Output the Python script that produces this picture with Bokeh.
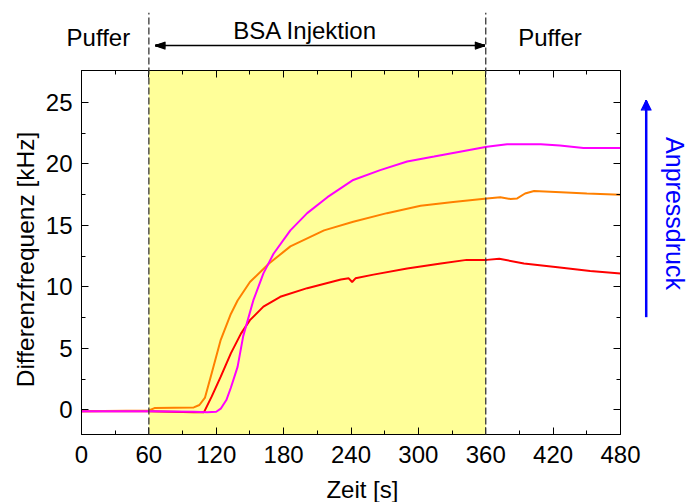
import math

from bokeh.plotting import figure
from bokeh.models import Range1d, LinearAxis, FixedTicker, BoxAnnotation, CustomJSTickFormatter
from bokeh.core.properties import value
from bokeh.embed import file_html
from bokeh.resources import INLINE

FONT = "Liberation Sans"
FS = "24px"

# --- measured frequency shift, three contact pressures ---------------------
t_red = [0, 30, 60, 80, 100, 109, 116, 124, 133, 142, 150, 162, 177, 201, 231,
         238, 241, 244, 260, 290, 320, 343, 361, 372, 394, 424, 453, 480]
f_red = [-0.1, -0.1, -0.1, -0.15, -0.2, -0.2, 1.1, 2.7, 4.6, 6.2, 7.3, 8.4, 9.2,
         9.9, 10.6, 10.7, 10.4, 10.7, 11.0, 11.5, 11.9, 12.2, 12.2, 12.3, 11.9,
         11.6, 11.3, 11.1]

t_orange = [0, 60, 65, 100, 105, 110, 116, 124, 133, 139, 150, 167, 186, 216,
            242, 272, 302, 331, 361, 373, 382, 388, 395, 403, 427, 450, 480]
f_orange = [-0.1, -0.05, 0.15, 0.2, 0.4, 1.0, 3.0, 5.7, 7.8, 8.9, 10.4, 11.9,
            13.3, 14.6, 15.3, 16.0, 16.6, 16.9, 17.2, 17.3, 17.15, 17.2, 17.6,
            17.8, 17.7, 17.6, 17.5]

t_magenta = [0, 60, 100, 112, 120, 124, 129, 133, 139, 144, 153, 162, 171, 186,
             201, 219, 242, 266, 290, 314, 337, 361, 379, 409, 426, 447, 480]
f_magenta = [-0.1, -0.1, -0.15, -0.2, -0.15, 0.1, 0.8, 1.8, 3.5, 6.0, 8.9, 11.1,
             12.7, 14.6, 16.0, 17.3, 18.7, 19.5, 20.2, 20.6, 21.0, 21.4, 21.6,
             21.6, 21.5, 21.3, 21.3]

# BSA injection window [s]
inj_start, inj_end = 60, 360

x_ticks = [0, 60, 120, 180, 240, 300, 360, 420, 480]
x_minor = [30, 90, 150, 210, 270, 330, 390, 450]
y_ticks = [0, 5, 10, 15, 20, 25]
y_minor = [2.5, 7.5, 12.5, 17.5, 22.5]

X0, X1 = 0, 480
Y0, Y1 = -2, 27.6
W, H = 691, 502
BL, BR, BT, BB = 81, 71, 70, 68

p = figure(width=W, height=H, x_range=Range1d(X0, X1), y_range=Range1d(Y0, Y1),
           output_backend="svg", toolbar_location=None,
           min_border_left=BL, min_border_right=BR, min_border_top=BT,
           min_border_bottom=BB)
p.xgrid.grid_line_color = None
p.ygrid.grid_line_color = None
p.outline_line_color = "black"
p.outline_line_width = 1
p.background_fill_color = "white"
p.border_fill_color = "white"

# pixels per data unit, used to size the arrow heads in screen pixels
px_x = (W - BL - BR) / (X1 - X0)
px_y = (H - BT - BB) / (Y1 - Y0)


def style_axis(ax):
    ax.major_tick_in = 7
    ax.major_tick_out = 0
    ax.minor_tick_in = 4
    ax.minor_tick_out = 0
    ax.axis_line_color = "black"
    ax.major_tick_line_color = "black"
    ax.minor_tick_line_color = "black"
    ax.major_label_text_font = FONT
    ax.major_label_text_font_size = FS
    ax.major_label_text_color = "black"


p.xaxis.ticker = FixedTicker(ticks=x_ticks, minor_ticks=x_minor)
p.yaxis.ticker = FixedTicker(ticks=y_ticks, minor_ticks=y_minor)
style_axis(p.xaxis[0])
style_axis(p.yaxis[0])
p.xaxis.major_label_standoff = 11
p.yaxis.major_label_standoff = 9

blank = CustomJSTickFormatter(code="return ''")
top_ax = LinearAxis(ticker=FixedTicker(ticks=x_ticks, minor_ticks=x_minor), formatter=blank)
right_ax = LinearAxis(ticker=FixedTicker(ticks=y_ticks, minor_ticks=y_minor), formatter=blank)
style_axis(top_ax)
style_axis(right_ax)
p.add_layout(top_ax, "above")
p.add_layout(right_ax, "right")

# injection period shading
p.add_layout(BoxAnnotation(left=inj_start, right=inj_end, fill_color="#ffff99",
                           fill_alpha=1.0, line_color=None, level="underlay"))

# response curves
p.line(t_red, f_red, line_color="#ff0000", line_width=2)
p.line(t_orange, f_orange, line_color="#ff8000", line_width=2)
p.line(t_magenta, f_magenta, line_color="#ff00ff", line_width=2)

# everything below lives partly outside the frame, so it is drawn with
# segment / text glyphs on the unclipped overlay level


def head_fan(tx, ty, direction, length, half, n=9):
    """Filled-looking arrow head: a fan of strokes from the tip (tx, ty)
    to its base; sizes in pixels."""
    x0, y0, x1, y1 = [], [], [], []
    for i in range(n):
        f = -1 + 2 * i / (n - 1)
        if direction == "left":
            bx, by = tx + length / px_x, ty + f * half / px_y
        elif direction == "right":
            bx, by = tx - length / px_x, ty + f * half / px_y
        else:
            bx, by = tx + f * half / px_x, ty - length / px_y
        x0.append(tx)
        y0.append(ty)
        x1.append(bx)
        y1.append(by)
    return x0, y0, x1, y1


def draw_head(tx, ty, direction, length, half, color):
    x0, y0, x1, y1 = head_fan(tx, ty, direction, length, half)
    p.segment(x0=x0, y0=y0, x1=x1, y1=y1, line_color=color, line_width=1.4,
              level="overlay")


# dashed markers for start / end of injection, running up into the header
p.segment(x0=[inj_start, inj_end], y0=[Y0, Y0], x1=[inj_start, inj_end], y1=[32.3, 32.3],
          line_color="#383838", line_width=1.3, line_dash="7 3", level="overlay")

# header: double arrow over the injection phase
arr_y, arr_l, arr_r = 29.63, 65.9, 359.2
p.segment(x0=[arr_l + 4 / px_x], y0=[arr_y], x1=[arr_r - 4 / px_x], y1=[arr_y],
          line_color="black", line_width=1.5, level="overlay")
draw_head(arr_l, arr_y, "left", 10, 3.5, "black")
draw_head(arr_r, arr_y, "right", 10, 3.5, "black")

# header: phase names
p.text(x=[15.0, 199.3, 417.2], y=[30.31, 30.85, 30.31],
       text=["Puffer", "BSA Injektion", "Puffer"], text_align="center",
       text_baseline="middle", text_font=value(FONT), text_font_size=value(FS),
       text_color="black", level="overlay")

# axis titles
p.text(x=[250.2], y=[-6.47], text=["Zeit [s]"], text_align="center",
       text_baseline="middle", text_font=value(FONT), text_font_size=value(FS),
       text_color="black", level="overlay")
p.text(x=[-49.9], y=[12.23], text=["Differenzfrequenz [kHz]"], angle=math.pi / 2,
       text_align="center", text_baseline="middle", text_font=value(FONT),
       text_font_size=value("24.5px"), text_color="black", level="overlay")

# contact pressure indicator
blue_x, blue_y0, blue_y1 = 502.9, 7.54, 25.16
p.segment(x0=[blue_x], y0=[blue_y0], x1=[blue_x], y1=[blue_y1 - 6 / px_y], line_color="blue",
          line_width=2.5, level="overlay")
draw_head(blue_x, blue_y1, "up", 10, 5, "blue")
p.text(x=[528.1], y=[15.97], text=["Anpressdruck"], angle=-math.pi / 2,
       text_align="center", text_baseline="middle", text_font=value(FONT),
       text_font_size=value("25px"), text_color="blue", level="overlay")

open("out.html", "w").write(file_html(p, INLINE))
